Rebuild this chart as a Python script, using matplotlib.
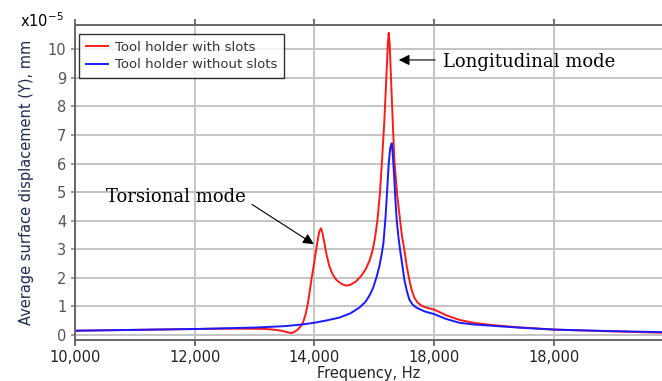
import matplotlib
matplotlib.use("Agg")
import matplotlib.pyplot as plt

# frequency response, values in units of 1e-5 mm
freq_slots = [10000, 11000, 12000, 12500, 13000, 13200, 13350, 13450, 13540, 13611,
              13660, 13720, 13770, 13806, 13850, 13890, 13917, 13950, 13990, 14028,
              14060, 14085, 14111, 14135, 14167, 14200, 14250, 14300, 14361, 14450,
              14528, 14600, 14694, 14780, 14850, 14920, 14970, 15010, 15050, 15090,
              15128, 15167, 15205, 15225, 15239, 15255, 15272, 15305, 15333, 15380,
              15428, 15460, 15500, 15540, 15583, 15620, 15667, 15720, 15800, 15900,
              16000, 16200, 16417, 16650, 16917, 17400, 18000, 18900, 19800]
disp_slots = [0.14, 0.17, 0.20, 0.21, 0.21, 0.20, 0.17, 0.14, 0.09, 0.06,
              0.09, 0.18, 0.30, 0.41, 0.70, 1.10, 1.46, 1.95, 2.45, 2.98,
              3.40, 3.65, 3.73, 3.55, 3.20, 2.82, 2.39, 2.13, 1.93, 1.78,
              1.72, 1.75, 1.87, 2.06, 2.28, 2.60, 2.95, 3.40, 4.00, 4.90,
              6.13, 7.53, 9.28, 10.20, 10.58, 10.20, 9.28, 7.53, 6.13, 4.90,
              4.03, 3.45, 2.98, 2.40, 1.93, 1.58, 1.30, 1.13, 1.00, 0.93,
              0.88, 0.68, 0.52, 0.42, 0.35, 0.26, 0.18, 0.12, 0.07]

freq_plain = [10000, 11000, 12000, 13000, 13500, 13800, 14000, 14200, 14417, 14600,
              14750, 14850, 14920, 14980, 15040, 15083, 15120, 15150, 15183, 15210,
              15239, 15265, 15289, 15306, 15330, 15350, 15372, 15400, 15428, 15465,
              15500, 15540, 15583, 15640, 15700, 15833, 16000, 16200, 16417, 16650,
              16917, 17400, 18000, 18900, 19800]
disp_plain = [0.14, 0.17, 0.20, 0.25, 0.30, 0.36, 0.42, 0.50, 0.60, 0.75,
              0.95, 1.15, 1.38, 1.65, 2.05, 2.40, 2.80, 3.20, 4.03, 4.95,
              6.00, 6.55, 6.71, 6.35, 5.55, 4.75, 4.03, 3.45, 2.98, 2.45,
              1.93, 1.55, 1.23, 1.05, 0.95, 0.82, 0.72, 0.55, 0.42, 0.36,
              0.32, 0.25, 0.18, 0.13, 0.09]

xticks = [10000, 12000, 14000, 16000, 18000]
xtick_labels = ["10,000", "12,000", "14,000", "18,000", "18,000"]
yticks = list(range(0, 11))

fig = plt.figure(figsize=(6.62, 3.81), dpi=100)
ax = fig.add_axes([0.113, 0.108, 0.887, 0.826])

ax.plot(freq_slots, disp_slots, color="#ff1a1a", lw=1.4, label="Tool holder with slots")
ax.plot(freq_plain, disp_plain, color="#1a1aff", lw=1.4, label="Tool holder without slots")

ax.set_xlim(10000, 19800)
ax.set_ylim(-0.18, 10.85)
ax.set_xticks(xticks)
ax.set_xticklabels(xtick_labels, fontsize=10.5, color="#222222")
ax.set_yticks(yticks)
ax.set_yticklabels([str(v) for v in yticks], fontsize=10.5, color="#555555")
ax.tick_params(axis="x", direction="out", length=4, width=1.2, color="#555555",
               top=True, pad=3)
ax.tick_params(axis="y", direction="out", length=3, width=1.2, color="#888888", pad=3)
ax.grid(True, color="#c4c4c4", lw=1.4)
ax.set_axisbelow(True)

for side in ["top", "bottom", "left"]:
    ax.spines[side].set_color("#666666")
    ax.spines[side].set_linewidth(1.4)
ax.spines["right"].set_visible(False)

ax.set_xlabel("Frequency, Hz", fontsize=10.5, color="#222222", labelpad=1)
ax.set_ylabel("Average surface displacement (Y), mm", fontsize=10.5,
              color="#1c2c50", labelpad=10)
fig.text(0.03, 0.93, "x10$^{-5}$", fontsize=10.5, color="black")

leg = ax.legend(loc="upper left", bbox_to_anchor=(0.003, 0.98), fontsize=9.5,
                frameon=True, fancybox=False, borderpad=0.5, handlelength=1.7,
                handletextpad=0.5, labelspacing=0.35, borderaxespad=0.2)
leg.get_frame().set_edgecolor("black")
leg.get_frame().set_linewidth(1.0)
for t in leg.get_texts():
    t.set_color("#333333")

arrow = dict(arrowstyle="-|>", color="black", lw=0.8, mutation_scale=16)
ax.annotate("", xy=(14028, 3.12), xytext=(12917, 4.62), arrowprops=arrow)
ax.text(10528, 4.83, "Torsional mode", fontsize=13, family="DejaVu Serif",
        va="center", ha="left")
ax.annotate("", xy=(15361, 9.63), xytext=(16060, 9.63), arrowprops=arrow)
ax.text(16150, 9.57, "Longitudinal mode", fontsize=13, family="DejaVu Serif",
        va="center", ha="left")

fig.savefig("out.png", dpi=100)
